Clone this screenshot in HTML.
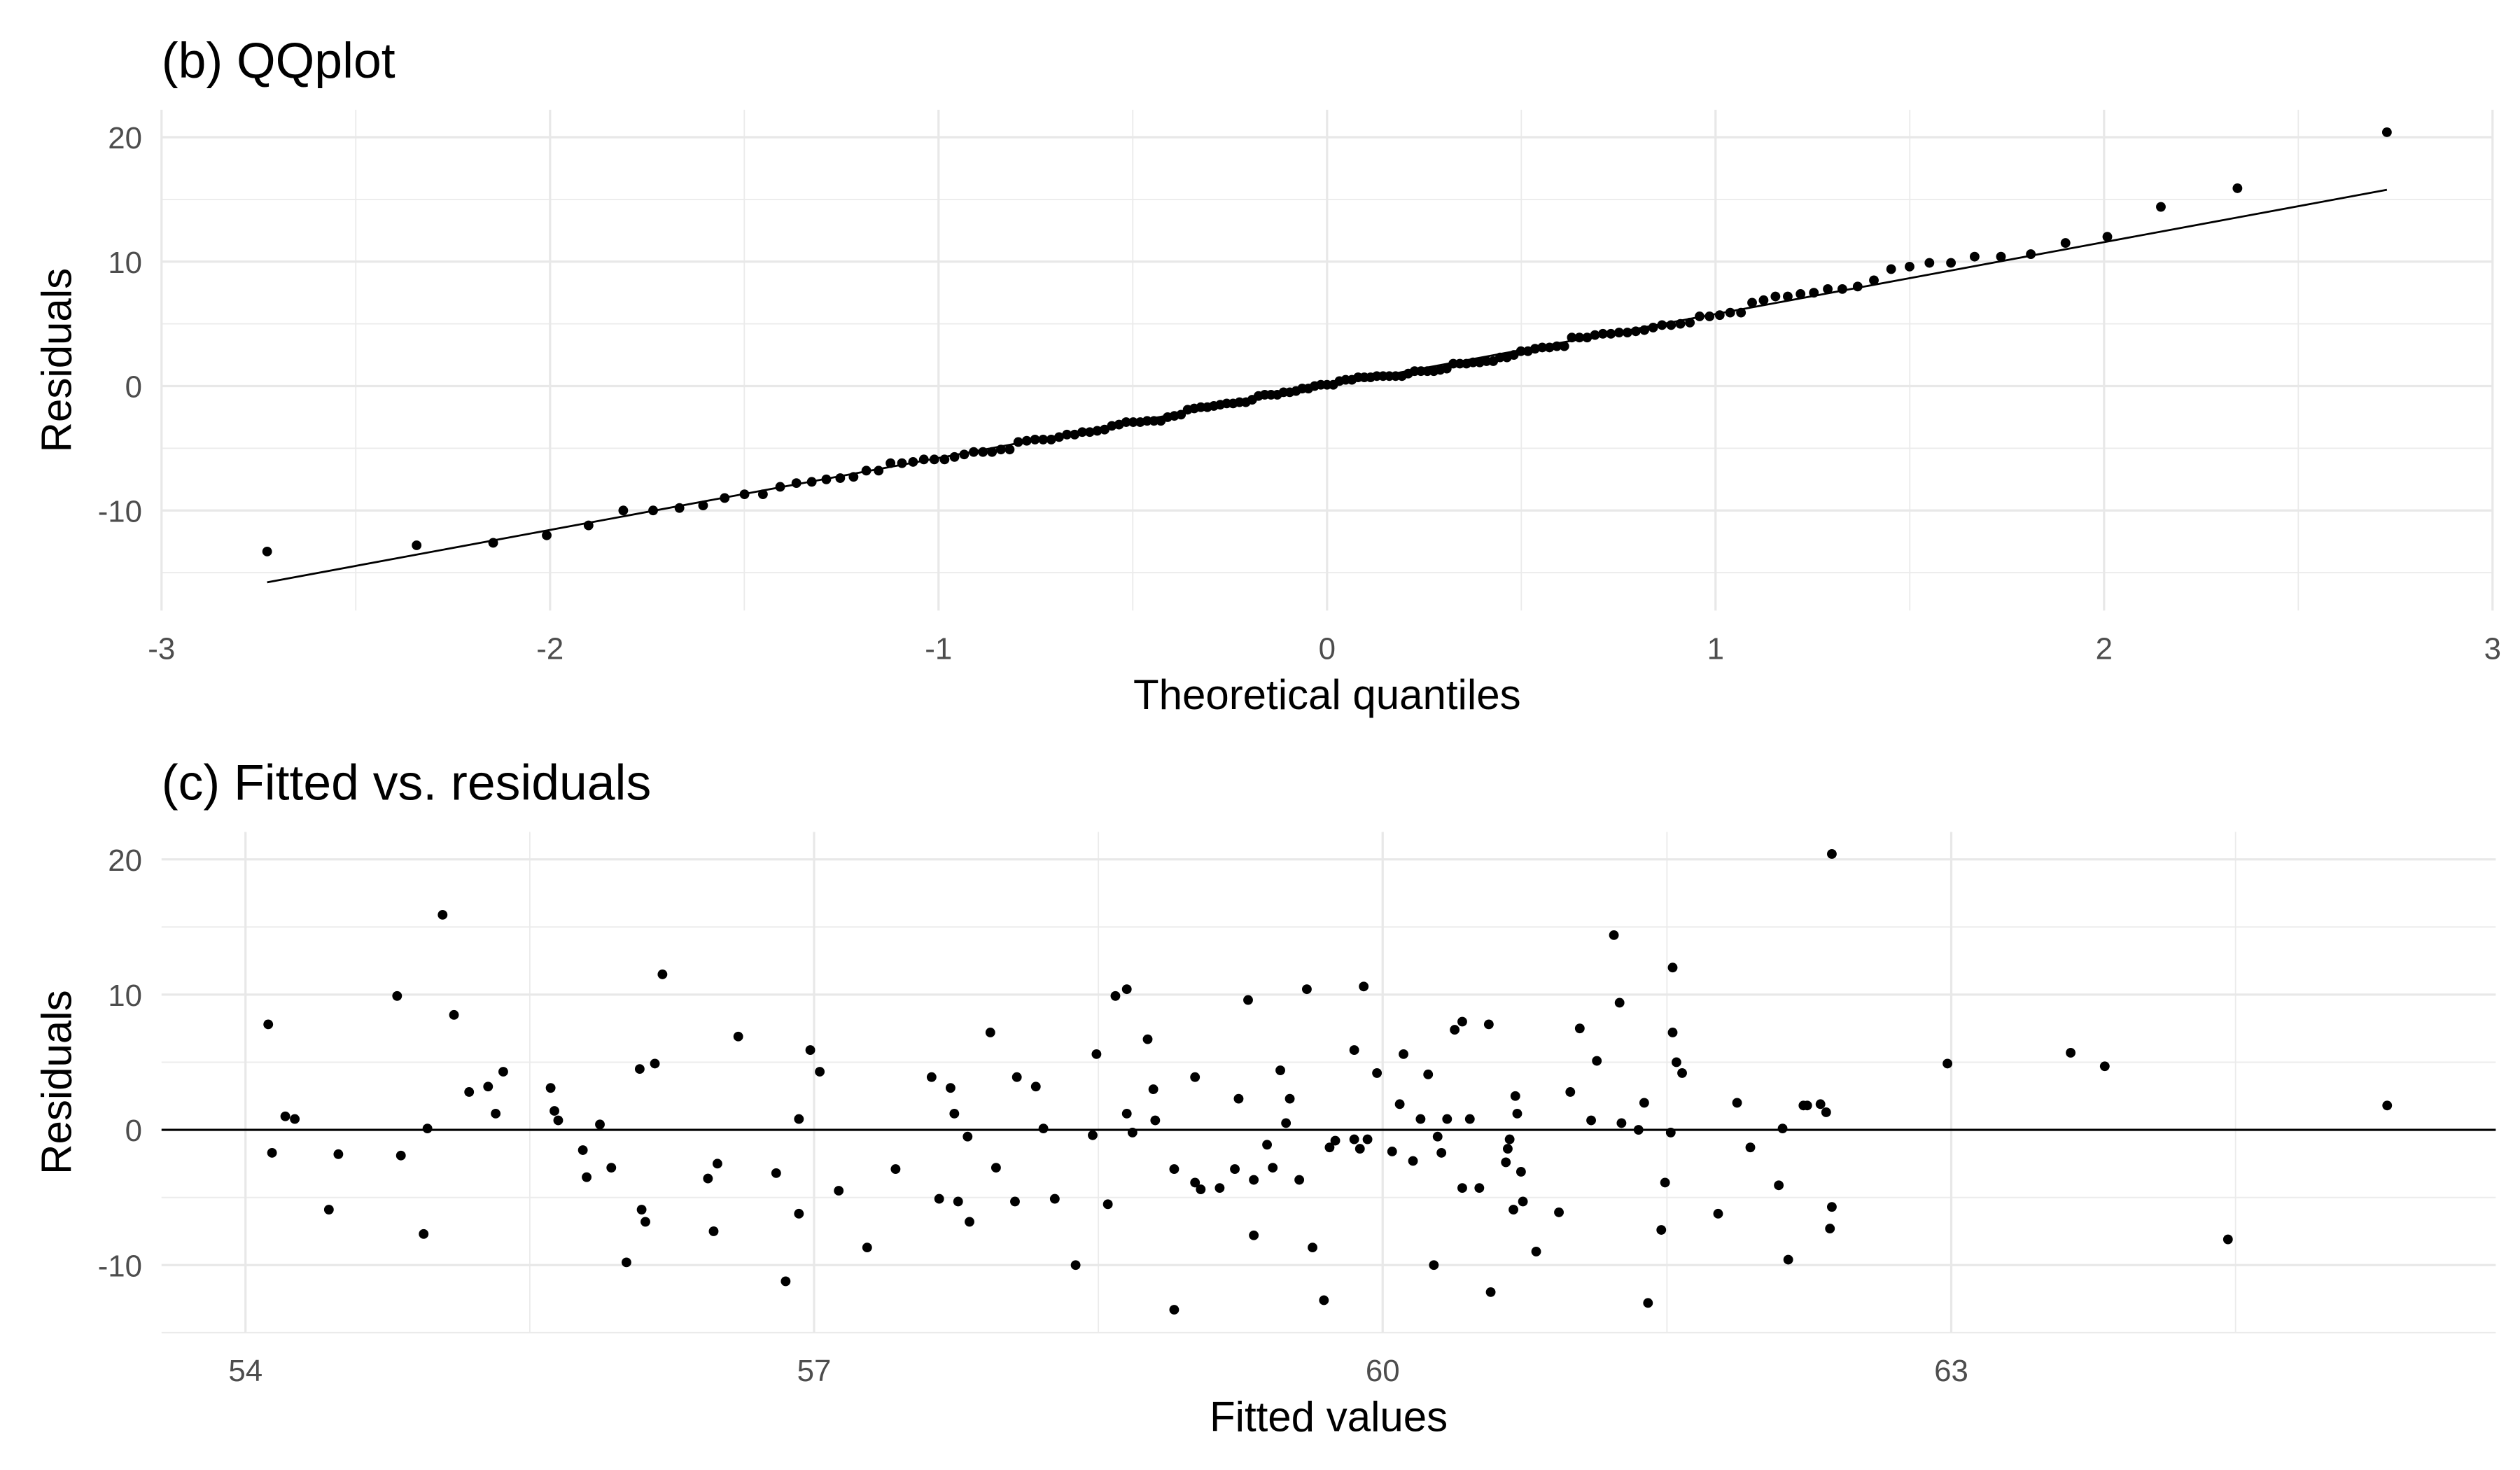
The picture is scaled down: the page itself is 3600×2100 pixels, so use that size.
<!DOCTYPE html>
<html><head><meta charset="utf-8">
<style>
html,body{margin:0;padding:0;background:#fff;}
svg{display:block;}
text{font-family:"Liberation Sans",Arial,sans-serif;}
</style></head>
<body>
<svg id="chart" width="3600" height="2100" viewBox="0 0 1560 910" xmlns="http://www.w3.org/2000/svg"></svg>
<script>
const fitted = [54.12,54.14,54.21,54.26,54.44,54.49,54.80,54.82,54.94,54.96,55.04,55.10,55.18,55.28,55.32,55.36,55.61,55.63,55.65,55.78,55.80,55.87,55.93,56.01,56.08,56.09,56.11,56.16,56.20,56.44,56.49,56.47,56.60,56.80,56.85,56.92,56.92,56.98,57.03,57.13,57.28,57.43,57.62,57.66,57.72,57.74,57.76,57.81,57.82,57.93,57.96,58.07,58.06,58.17,58.21,58.27,58.38,58.47,58.49,58.55,58.59,58.65,58.65,58.68,58.76,58.79,58.80,58.90,58.90,59.01,59.01,59.04,59.14,59.22,59.24,59.29,59.32,59.32,59.39,59.42,59.46,59.49,59.51,59.56,59.60,59.63,59.69,59.72,59.75,59.85,59.85,59.88,59.90,59.92,59.97,60.05,60.09,60.11,60.16,60.20,60.24,60.27,60.29,60.31,60.34,60.38,60.42,60.42,60.46,60.51,60.56,60.57,60.65,60.66,60.67,60.69,60.70,60.71,60.73,60.74,60.81,60.93,60.99,61.04,61.10,61.13,61.22,61.25,61.26,61.35,61.38,61.40,61.47,61.49,61.52,61.53,61.53,61.55,61.58,61.77,61.87,61.94,62.09,62.11,62.14,62.22,62.24,62.31,62.34,62.36,62.37,62.37,62.98,63.63,63.81,64.46,65.30];
const residuals = [7.8,-1.7,1.0,0.8,-5.9,-1.8,9.9,-1.9,-7.7,0.1,15.9,8.5,2.8,3.2,1.2,4.3,3.1,1.4,0.7,-1.5,-3.5,0.4,-2.8,-9.8,4.5,-5.9,-6.8,4.9,11.5,-3.6,-2.5,-7.5,6.9,-3.2,-11.2,0.8,-6.2,5.9,4.3,-4.5,-8.7,-2.9,3.9,-5.1,3.1,1.2,-5.3,-0.5,-6.8,7.2,-2.8,3.9,-5.3,3.2,0.1,-5.1,-10.0,-0.4,5.6,-5.5,9.9,10.4,1.2,-0.2,6.7,3.0,0.7,-2.9,-13.3,3.9,-3.9,-4.4,-4.3,-2.9,2.3,9.6,-3.7,-7.8,-1.1,-2.8,4.4,0.5,2.3,-3.7,10.4,-8.7,-12.6,-1.3,-0.8,5.9,-0.7,-1.4,10.6,-0.7,4.2,-1.6,1.9,5.6,-2.3,0.8,4.1,-10.0,-0.5,-1.7,0.8,7.4,8.0,-4.3,0.8,-4.3,7.8,-12.0,-2.4,-1.4,-0.7,-5.9,2.5,1.2,-3.1,-5.3,-9.0,-6.1,2.8,7.5,0.7,5.1,14.4,9.4,0.5,0.0,2.0,-12.8,-7.4,-3.9,-0.2,12.0,7.2,5.0,4.2,-6.2,2.0,-1.3,-4.1,0.1,-9.6,1.8,1.8,1.9,1.3,-7.3,20.4,-5.7,4.9,5.7,4.7,-8.1,1.8];
const qqXTicks = [-3,-2,-1,0,1,2,3];
const qqYTicks = [-10,0,10,20];
const fvXTicks = [54,57,60,63];
const fvYTicks = [-10,0,10,20];

const NS="http://www.w3.org/2000/svg";
const svg=document.getElementById('chart');
function mk(tag,attrs,parent){const e=document.createElementNS(NS,tag);for(const k in attrs)e.setAttribute(k,attrs[k]);(parent||svg).appendChild(e);return e;}
function qnorm(p){
  const a=[-3.969683028665376e+01,2.209460984245205e+02,-2.759285104469687e+02,1.383577518672690e+02,-3.066479806614716e+01,2.506628277459239e+00];
  const b=[-5.447609879822406e+01,1.615858368580409e+02,-1.556989798598866e+02,6.680131188771972e+01,-1.328068155288572e+01];
  const c=[-7.784894002430293e-03,-3.223964580411365e-01,-2.400758277161838e+00,-2.549732539343734e+00,4.374664141464968e+00,2.938163982698783e+00];
  const d=[7.784695709041462e-03,3.224671290700398e-01,2.445134137142996e+00,3.754408661907416e+00];
  const pl=0.02425;let q,r;
  if(p<pl){q=Math.sqrt(-2*Math.log(p));return (((((c[0]*q+c[1])*q+c[2])*q+c[3])*q+c[4])*q+c[5])/((((d[0]*q+d[1])*q+d[2])*q+d[3])*q+1);}
  if(p>1-pl){q=Math.sqrt(-2*Math.log(1-p));return -(((((c[0]*q+c[1])*q+c[2])*q+c[3])*q+c[4])*q+c[5])/((((d[0]*q+d[1])*q+d[2])*q+d[3])*q+1);}
  q=p-0.5;r=q*q;return (((((a[0]*r+a[1])*r+a[2])*r+a[3])*r+a[4])*r+a[5])*q/(((((b[0]*r+b[1])*r+b[2])*r+b[3])*r+b[4])*r+1);
}
function quantile(s,p){const h=(s.length-1)*p,lo=Math.floor(h);return s[lo]+(h-lo)*(s[Math.min(lo+1,s.length-1)]-s[lo]);}

function panel(o){
  const g=mk('g',{});
  
  
  const sx=v=>o.x0+(v-o.xmin)/(o.xmax-o.xmin)*(o.x1-o.x0);
  const sy=v=>o.yb+(v-o.ymin)/(o.ymax-o.ymin)*(o.yt-o.yb);
  const xs=o.xTicks, step=xs[1]-xs[0];
  for(let v=xs[0]-step/2; v<=o.xmax; v+=step){ if(v<o.xmin) continue; const l=mk('line',{x1:sx(v),x2:sx(v),y1:o.yt,y2:o.yb,stroke:'#ebebeb','stroke-width':0.8},g);   }
  const ys=o.yTicks, ystep=ys[1]-ys[0];
  for(let v=ys[0]-ystep/2; v<=o.ymax; v+=ystep){ if(v<o.ymin) continue; const l=mk('line',{x1:o.x0,x2:o.x1,y1:sy(v),y2:sy(v),stroke:'#ebebeb','stroke-width':0.8},g);   }
  xs.forEach(v=>{ const l=mk('line',{x1:sx(v),x2:sx(v),y1:o.yt,y2:o.yb,stroke:'#e8e8e8','stroke-width':1.4},g);  
    const t=mk('text',{x:sx(v),y:o.yb+30,'text-anchor':'middle','font-size':19,fill:'#4d4d4d'},g); t.textContent=v;  });
  ys.forEach(v=>{ const l=mk('line',{x1:o.x0,x2:o.x1,y1:sy(v),y2:sy(v),stroke:'#e8e8e8','stroke-width':1.4},g);  
    const t=mk('text',{x:o.x0-12,y:sy(v)+7,'text-anchor':'end','font-size':19,fill:'#4d4d4d'},g); t.textContent=v;  });
  const tt=mk('text',{x:o.x0,y:o.yt-20,'font-size':31,fill:'#000'},g); tt.textContent=o.title;  
  const xt=mk('text',{x:(o.x0+o.x1)/2,y:o.yb+61,'text-anchor':'middle','font-size':26,fill:'#000'},g); xt.textContent=o.xlab;  
  const cy=(o.yt+o.yb)/2;
  const yt=mk('text',{x:44,y:cy,'text-anchor':'middle','font-size':26,fill:'#000',transform:`rotate(-90 44 ${cy})`},g); yt.textContent='Residuals';  
  return {g,sx,sy};
}

const P1=panel({name:'qq-plot-panel',title:'(b) QQplot',xlab:'Theoretical quantiles',x0:100,x1:1543,xmin:-3,xmax:3,yt:68,yb:378,ymin:-18.05,ymax:22.2,xTicks:qqXTicks,yTicks:qqYTicks});
const sorted=residuals.slice().sort((a,b)=>a-b);
const n=sorted.length;
const theo=sorted.map((_,i)=>qnorm((i+0.5)/n));
const q1=quantile(sorted,0.25),q3=quantile(sorted,0.75);
const slope=(q3-q1)/(qnorm(0.75)-qnorm(0.25));
const icpt=q1-slope*qnorm(0.25);
const qline=mk('line',{x1:P1.sx(theo[0]),y1:P1.sy(icpt+slope*theo[0]),x2:P1.sx(theo[n-1]),y2:P1.sy(icpt+slope*theo[n-1]),stroke:'#000','stroke-width':1.2},P1.g);


sorted.forEach((v,i)=>{const c=mk('circle',{cx:P1.sx(theo[i]),cy:P1.sy(v),r:3,fill:'#000'},P1.g);

});

const P2=panel({name:'fitted-vs-residuals-panel',title:'(c) Fitted vs. residuals',xlab:'Fitted values',x0:100,x1:1545,xmin:53.557,xmax:65.873,yt:515,yb:825,ymin:-15,ymax:22.03,xTicks:fvXTicks,yTicks:fvYTicks});
const zl=mk('line',{x1:100,x2:1545,y1:P2.sy(0),y2:P2.sy(0),stroke:'#000','stroke-width':1.4},P2.g);


fitted.forEach((f,i)=>{const c=mk('circle',{cx:P2.sx(f),cy:P2.sy(residuals[i]),r:3,fill:'#000'},P2.g);

});
</script>
</body></html>
